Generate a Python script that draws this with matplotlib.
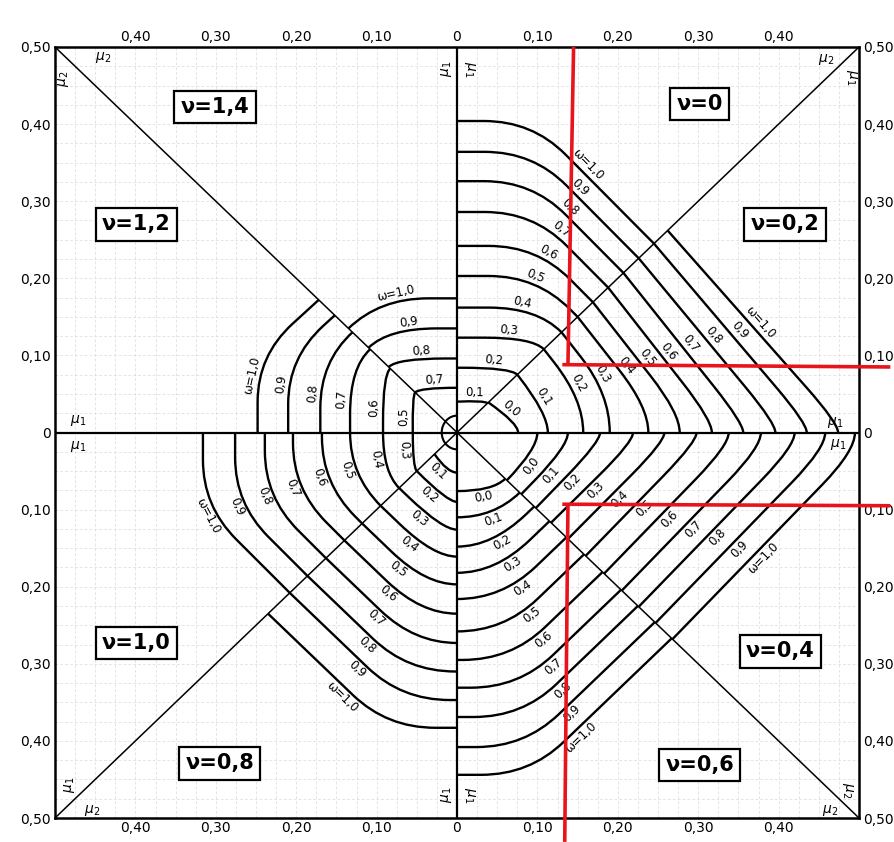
import numpy as np
import matplotlib.pyplot as plt
from matplotlib.path import Path
from matplotlib.patches import PathPatch, Arc

# omega curves per octant: intercept on the starting axis, end point t on the diagonal (t, t)
nu0_omega = [0.1, 0.2, 0.3, 0.4, 0.5, 0.6, 0.7, 0.8, 0.9, 1.0]
nu0_axis = [0.040, 0.084, 0.123, 0.162, 0.203, 0.242, 0.286, 0.326, 0.364, 0.404]
nu0_diag = [0.038, 0.075, 0.108, 0.130, 0.150, 0.169, 0.188, 0.207, 0.226, 0.245]

nu02_omega = [0.0, 0.1, 0.2, 0.3, 0.4, 0.5, 0.6, 0.7, 0.8, 0.9, 1.0]
nu02_axis = [0.076, 0.113, 0.157, 0.190, 0.238, 0.277, 0.317, 0.356, 0.396, 0.435, 0.474]
nu02_diag = [0.039, 0.075, 0.108, 0.130, 0.150, 0.169, 0.188, 0.207, 0.226, 0.245, 0.262]

nu04_omega = [0.0, 0.1, 0.2, 0.3, 0.4, 0.5, 0.6, 0.7, 0.8, 0.9, 1.0]
nu04_axis = [0.100, 0.138, 0.178, 0.219, 0.258, 0.298, 0.338, 0.378, 0.420, 0.458, 0.495]
nu04_diag = [0.062, 0.080, 0.098, 0.117, 0.138, 0.160, 0.183, 0.205, 0.226, 0.247, 0.268]

nu06_omega = [0.0, 0.1, 0.2, 0.3, 0.4, 0.5, 0.6, 0.7, 0.8, 0.9, 1.0]
nu06_axis = [0.076, 0.110, 0.148, 0.182, 0.216, 0.258, 0.295, 0.331, 0.369, 0.408, 0.444]
nu06_diag = [0.060, 0.078, 0.096, 0.115, 0.136, 0.158, 0.181, 0.204, 0.225, 0.246, 0.267]

nu08_omega = [0.1, 0.2, 0.3, 0.4, 0.5, 0.6, 0.7, 0.8, 0.9, 1.0]
nu08_axis = [0.052, 0.090, 0.126, 0.161, 0.197, 0.235, 0.273, 0.310, 0.347, 0.383]
nu08_diag = [0.028, 0.050, 0.072, 0.095, 0.118, 0.140, 0.163, 0.186, 0.208, 0.235]

nu10_omega = [0.3, 0.4, 0.5, 0.6, 0.7, 0.8, 0.9, 1.0]
nu10_axis = [0.055, 0.092, 0.133, 0.168, 0.204, 0.239, 0.276, 0.316]
nu10_diag = [0.050, 0.072, 0.095, 0.118, 0.140, 0.163, 0.186, 0.208]

nu12_omega = [0.5, 0.6, 0.7, 0.8, 0.9, 1.0]
nu12_axis = [0.055, 0.092, 0.133, 0.170, 0.210, 0.248]
nu12_diag = [0.052, 0.083, 0.108, 0.130, 0.152, 0.172]

nu14_omega = [0.7, 0.8, 0.9, 1.0]
nu14_axis = [0.058, 0.096, 0.135, 0.174]
nu14_diag = [0.052, 0.085, 0.110, 0.135]

center_loop_r = 0.019

nu_names = ["ν=0", "ν=0,2", "ν=0,4", "ν=0,6", "ν=0,8", "ν=1,0", "ν=1,2", "ν=1,4"]
nu_box_u = [0.302, 0.408, 0.402, 0.302, -0.295, -0.399, -0.399, -0.301]
nu_box_v = [0.426, 0.270, -0.284, -0.431, -0.429, -0.273, 0.270, 0.422]

x_ticks = [-0.4, -0.3, -0.2, -0.1, 0.0, 0.1, 0.2, 0.3, 0.4]
y_ticks = [-0.5, -0.4, -0.3, -0.2, -0.1, 0.0, 0.1, 0.2, 0.3, 0.4, 0.5]

red_upper = [[(0.145, 0.5), (0.138, 0.088)], [(0.131, 0.088), (0.539, 0.085)]]
red_lower = [[(0.131, -0.093), (0.539, -0.095)], [(0.138, -0.093), (0.134, -0.531)]]

# octant layout: start axis direction, direction toward the diagonal,
# steepness of the run-out toward the diagonal, label position along curve
octants = [
    (nu0_omega, nu0_axis, nu0_diag, (0, 1), (1, 0), 1.05, 0.57),
    (nu02_omega, nu02_axis, nu02_diag, (1, 0), (0, 1), 0.75, 0.50),
    (nu04_omega, nu04_axis, nu04_diag, (1, 0), (0, -1), 0.93, 0.55),
    (nu06_omega, nu06_axis, nu06_diag, (0, -1), (1, 0), 1.0, 0.48),
    (nu08_omega, nu08_axis, nu08_diag, (0, -1), (-1, 0), 1.0, 0.50),
    (nu10_omega, nu10_axis, nu10_diag, (-1, 0), (0, -1), 0.96, 0.42),
    (nu12_omega, nu12_axis, nu12_diag, (-1, 0), (0, 1), 1.05, 0.35),
    (nu14_omega, nu14_axis, nu14_diag, (0, 1), (-1, 0), 1.0, 0.50),
]

fig = plt.figure(figsize=(8.95, 8.42), dpi=100)
ax = fig.add_axes([55 / 895, 24 / 842, 804 / 895, 771 / 842])
ax.set_xlim(-0.5, 0.5)
ax.set_ylim(-0.5, 0.5)

# graph paper
for g in np.arange(-0.475, 0.5, 0.025):
    ax.axvline(g, color="#d9d9d9", lw=0.5, ls=(0, (4, 3)), zorder=0)
    ax.axhline(g, color="#d9d9d9", lw=0.5, ls=(0, (4, 3)), zorder=0)

ax.axhline(0, color="black", lw=1.6, zorder=2)
ax.axvline(0, color="black", lw=1.6, zorder=2)
ax.plot([-0.5, 0.5], [-0.5, 0.5], color="black", lw=1.1, zorder=2)
ax.plot([-0.5, 0.5], [0.5, -0.5], color="black", lw=1.1, zorder=2)
for sp in ax.spines.values():
    sp.set_linewidth(1.8)


def curve_path(a, s, k, r0, t, R=0.06, lam_min=0.012, mu_min=0.005):
    a = np.array(a, float)
    s = np.array(s, float)
    p0 = r0 * a
    p2 = t * (a + s)
    e = s - k * a
    e = e / np.linalg.norm(e)
    lam, mu = np.linalg.solve(np.column_stack([s, e]), p2 - p0)
    if lam < lam_min:
        c = p0 + lam_min * s
    elif mu < mu_min:
        c = p2 - mu_min * e
    else:
        c = p0 + lam * s
    la = np.linalg.norm(c - p0)
    mb = np.linalg.norm(p2 - c)
    pa = c + min(la, R) * (p0 - c) / la
    pb = c + min(mb, R) * (p2 - c) / mb
    return p0, pa, c, pb, p2


def sample(p0, pa, c, pb, p2):
    tt = np.linspace(0, 1, 40)[:, None]
    first = (1 - tt) * p0 + tt * pa
    bez = (1 - tt) ** 2 * pa + 2 * (1 - tt) * tt * c + tt ** 2 * pb
    last = (1 - tt) * pb + tt * p2
    return np.vstack([first, bez[1:], last[1:]])


fig.canvas.draw()
for omegas, axis_vals, diag_vals, a, s, k, frac in octants:
    for w, r0, t in zip(omegas, axis_vals, diag_vals):
        p0, pa, c, pb, p2 = curve_path(a, s, k, r0, t)
        path = Path([p0, pa, c, pb, p2],
                    [Path.MOVETO, Path.LINETO, Path.CURVE3, Path.CURVE3, Path.LINETO])
        ax.add_patch(PathPatch(path, fill=False, ec="black", lw=1.7, zorder=3))

        pts = sample(p0, pa, c, pb, p2)
        seg = np.linalg.norm(np.diff(pts, axis=0), axis=1)
        cum = np.concatenate([[0], np.cumsum(seg)])
        i = np.searchsorted(cum, frac * cum[-1])
        i = min(max(i, 1), len(pts) - 1)
        p = pts[i]
        d1, d2 = ax.transData.transform([pts[i - 1], pts[i]])
        ang = np.degrees(np.arctan2(d2[1] - d1[1], d2[0] - d1[0]))
        if ang > 90:
            ang -= 180
        elif ang <= -90:
            ang += 180
        tang = pts[i] - pts[i - 1]
        nrm = np.array([-tang[1], tang[0]])
        nrm = nrm / np.linalg.norm(nrm)
        if np.dot(nrm, p) < 0:
            nrm = -nrm
        lp = p + 0.011 * nrm
        txt = "ω=1,0" if w == 1.0 else f"{w:.1f}".replace(".", ",")
        ax.text(lp[0], lp[1], txt, fontsize=8.5, rotation=ang, rotation_mode="anchor",
                ha="center", va="center", zorder=4)

# small loop round the origin
ax.add_patch(Arc((0, 0), 2 * center_loop_r, 2.3 * center_loop_r, theta1=90, theta2=270,
                 color="black", lw=1.5, zorder=3))

for name, bu, bv in zip(nu_names, nu_box_u, nu_box_v):
    ax.text(bu, bv, name, fontsize=15, fontweight="bold", ha="center", va="center", zorder=5,
            bbox=dict(boxstyle="square,pad=0.3", fc="white", ec="black", lw=1.6))

# moment symbols at the axis ends
mu_marks = [
    (-0.440, 0.487, r"$\mu_2$", 0), (-0.490, 0.458, r"$\mu_2$", 90),
    (0.459, 0.484, r"$\mu_2$", 0), (0.491, 0.461, r"$\mu_1$", -90),
    (-0.013, 0.471, r"$\mu_1$", 90), (0.015, 0.471, r"$\mu_1$", -90),
    (-0.471, 0.016, r"$\mu_1$", 0), (-0.471, -0.018, r"$\mu_1$", 0),
    (0.470, 0.013, r"$\mu_1$", 0), (0.474, -0.016, r"$\mu_1$", 0),
    (-0.013, -0.470, r"$\mu_1$", 90), (0.015, -0.470, r"$\mu_1$", -90),
    (-0.482, -0.457, r"$\mu_1$", 90), (-0.454, -0.490, r"$\mu_2$", 0),
    (0.486, -0.464, r"$\mu_2$", -90), (0.464, -0.490, r"$\mu_2$", 0),
]
for mu_u, mu_v, mtxt, rot in mu_marks:
    ax.text(mu_u, mu_v, mtxt, fontsize=10, rotation=rot, ha="center", va="center", zorder=4)

for line in red_upper + red_lower:
    (u1, v1), (u2, v2) = line
    ax.plot([u1, u2], [v1, v2], color="#e8141c", lw=2.6, clip_on=False, zorder=6,
            solid_capstyle="butt")


def fmt(v):
    return "0" if abs(v) < 1e-9 else f"{abs(v):.2f}".replace(".", ",")


ax.set_xticks(x_ticks)
ax.set_xticklabels([fmt(v) for v in x_ticks])
ax.set_yticks(y_ticks)
ax.set_yticklabels([fmt(v) for v in y_ticks])
ax.tick_params(axis="x", length=0, top=True, labeltop=True, bottom=True, labelbottom=True,
               pad=2.5, labelsize=10)
ax.tick_params(axis="y", length=0, left=True, labelleft=True, right=True, labelright=True,
               pad=3, labelsize=10)

fig.savefig("out.png", dpi=100)
